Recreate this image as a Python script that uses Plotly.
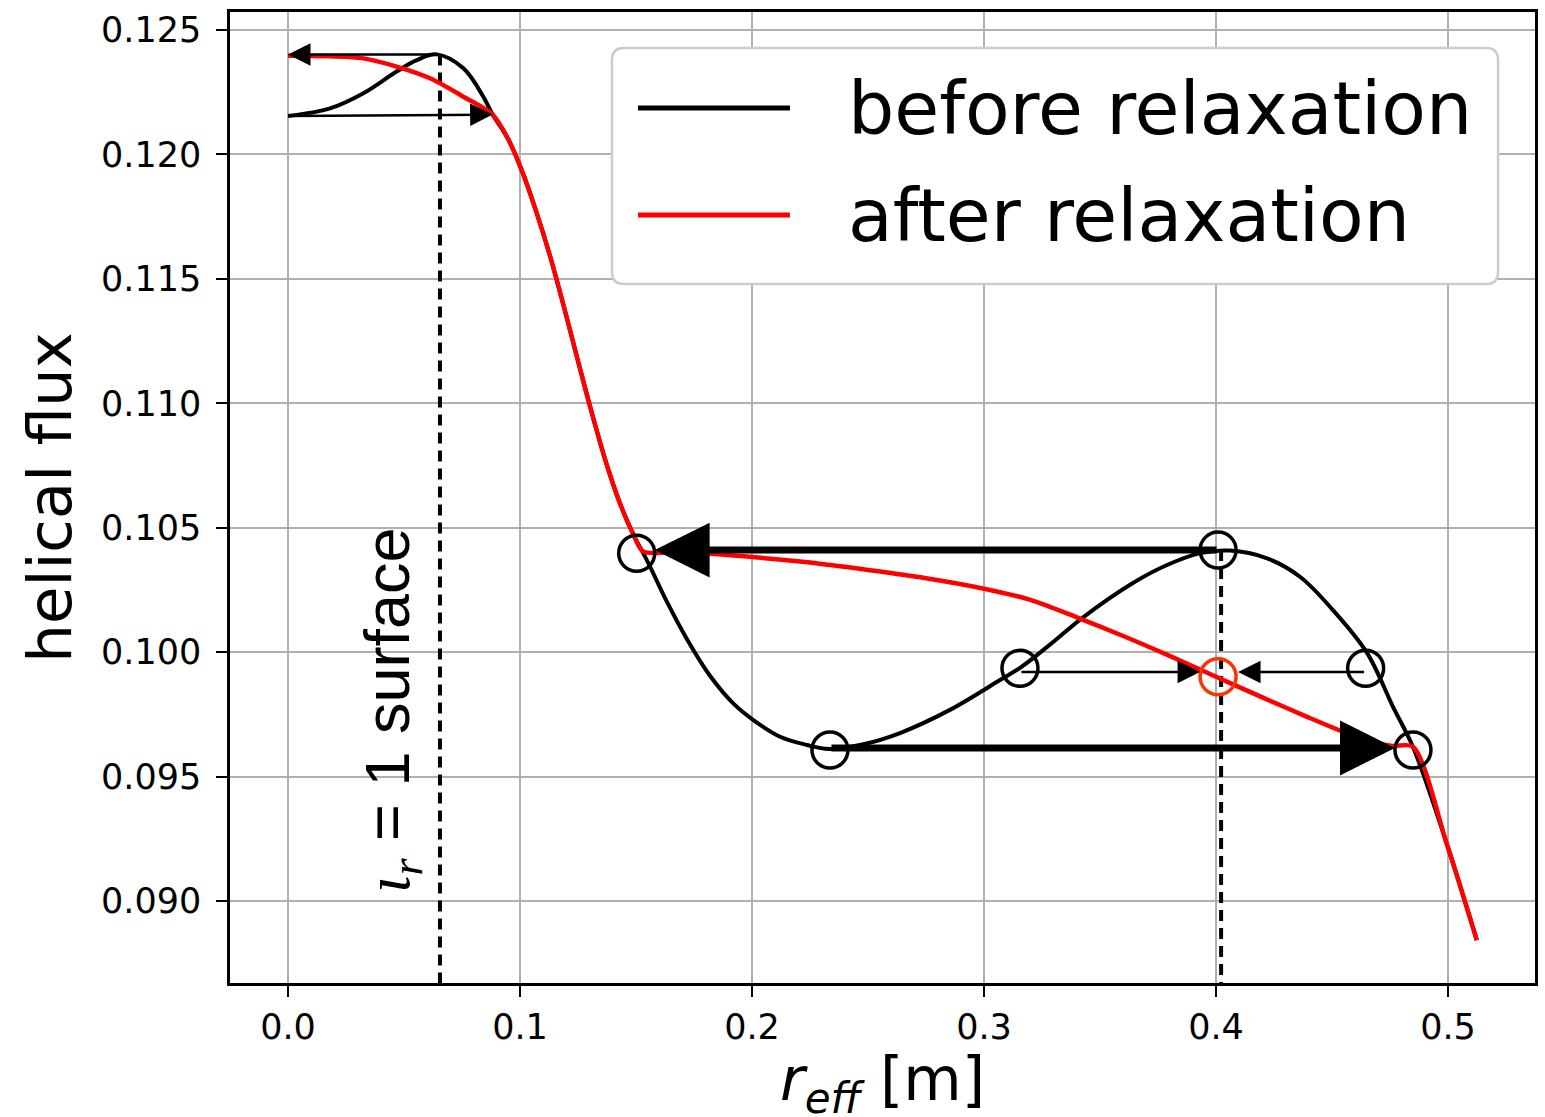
import plotly.graph_objects as go

# Helical flux profile across the effective minor radius
r_before = [0.0000, 0.0181, 0.0325, 0.0468, 0.0555, 0.0641, 0.0756, 0.0842, 0.0882,
            0.0950, 0.1010, 0.1070, 0.1130, 0.1190, 0.1250, 0.1310, 0.1370, 0.1430,
            0.1490, 0.1530, 0.1560, 0.1632, 0.1718, 0.1819, 0.1919, 0.2006, 0.2121, 0.2236,
            0.2332, 0.2480, 0.2638, 0.2853, 0.3069, 0.3160, 0.3284, 0.3427, 0.3642,
            0.3789, 0.3931, 0.4060, 0.4220, 0.4362, 0.4504, 0.4651, 0.4763, 0.4849,
            0.4994, 0.5124]
flux_before = [0.12154, 0.12185, 0.12246, 0.12333, 0.12379, 0.12402, 0.12346, 0.12232, 0.12160,
               0.12060, 0.11930, 0.11770, 0.11590, 0.11385, 0.11170, 0.10960, 0.10765, 0.10600,
               0.10470, 0.10400, 0.10345, 0.10205, 0.10055, 0.09905, 0.09794, 0.09727, 0.09660, 0.09627,
               0.09611, 0.09630, 0.09675, 0.09768, 0.09888, 0.09940, 0.10030, 0.10140, 0.10278,
               0.10350, 0.10398, 0.10408, 0.10377, 0.10303, 0.10169, 0.09997, 0.09780, 0.09619,
               0.09232, 0.08843]

r_after = [0.0000, 0.0181, 0.0325, 0.0468, 0.0612, 0.0756, 0.0882,
           0.0950, 0.1010, 0.1070, 0.1130, 0.1190, 0.1250, 0.1310, 0.1370, 0.1430,
           0.1490, 0.1530, 0.1650, 0.1800, 0.2000, 0.2250, 0.2500, 0.2750, 0.3000, 0.3200,
           0.3400, 0.3600, 0.3800, 0.4000, 0.4200, 0.4400, 0.4560, 0.4660, 0.4760,
           0.4849, 0.4994, 0.5124]
flux_after = [0.12396, 0.12394, 0.12386, 0.12353, 0.12306, 0.12232, 0.12160,
              0.12060, 0.11930, 0.11770, 0.11590, 0.11385, 0.11170, 0.10960, 0.10765, 0.10600,
              0.10470, 0.10405, 0.10400, 0.10396, 0.10382, 0.10360, 0.10330, 0.10297, 0.10255, 0.10210,
              0.10140, 0.10065, 0.09985, 0.09901, 0.09818, 0.09737, 0.09675, 0.09642, 0.09623,
              0.09620, 0.09232, 0.08843]

# Resonant surfaces (vertical guides)
guide_r = [0.0655, 0.4022]
guide_top = [0.12402, 0.10410]

# Surfaces that are paired up by the flattening
pair_r = [0.1503, 0.4009, 0.2336, 0.4849, 0.3155, 0.4645]
pair_flux = [0.10397, 0.10410, 0.09607, 0.09607, 0.09935, 0.09935]
merged_r = [0.4009]
merged_flux = [0.09901]

# Arrows from tail to head
arrow_tail_r = [0.0641, 0.0000, 0.4009, 0.2336, 0.3155, 0.4645]
arrow_tail_flux = [0.12402, 0.12154, 0.10410, 0.09615, 0.09920, 0.09920]
arrow_head_r = [0.0000, 0.0882, 0.1503, 0.4849, 0.4009, 0.4009]
arrow_head_flux = [0.12402, 0.12160, 0.10410, 0.09615, 0.09920, 0.09920]

x_ticks = [0.0, 0.1, 0.2, 0.3, 0.4, 0.5]
y_ticks = [0.090, 0.095, 0.100, 0.105, 0.110, 0.115, 0.120, 0.125]
x_range = [-0.025, 0.5375]
y_range = [0.086705, 0.125723]

# arrow drawing styles: (line width, head size, standoff)
ARROW_STYLE = [(2.5, 1.8, 0), (2.5, 1.8, 0), (7, 1.57, 18), (7, 1.57, 18), (2.5, 1.8, 18), (2.5, 1.8, 20)]

FONT = "DejaVu Sans"

fig = go.Figure()

for gx, gtop in zip(guide_r, guide_top):
    fig.add_trace(go.Scatter(
        x=[gx, gx], y=[gtop, y_range[0]], mode="lines",
        line=dict(color="black", width=4, dash="11px,7px"),
        showlegend=False, hoverinfo="skip"))

fig.add_trace(go.Scatter(
    x=r_before, y=flux_before, mode="lines", name="before relaxation",
    line=dict(color="black", width=4, shape="spline", smoothing=1.0),
    showlegend=False))
fig.add_trace(go.Scatter(
    x=r_after, y=flux_after, mode="lines", name="after relaxation",
    line=dict(color="#ff0000", width=4.5, shape="spline", smoothing=0.8),
    showlegend=False))

fig.add_trace(go.Scatter(
    x=pair_r, y=pair_flux, mode="markers",
    marker=dict(symbol="circle-open", size=36, color="black",
                line=dict(color="black", width=3.5)),
    showlegend=False, hoverinfo="skip"))
fig.add_trace(go.Scatter(
    x=merged_r, y=merged_flux, mode="markers",
    marker=dict(symbol="circle-open", size=36, color="#ff3300",
                line=dict(color="#ff3300", width=3.5)),
    showlegend=False, hoverinfo="skip"))

for tr, tf, hr, hf, (w, s, so) in zip(arrow_tail_r, arrow_tail_flux,
                                     arrow_head_r, arrow_head_flux, ARROW_STYLE):
    fig.add_annotation(
        x=hr, y=hf, ax=tr, ay=tf, xref="x", yref="y", axref="x", ayref="y",
        text="", showarrow=True, arrowhead=2, arrowwidth=w, arrowsize=s,
        arrowcolor="black", standoff=so, startstandoff=0)

# label of the resonant surface
fig.add_annotation(
    x=0.0448, y=0.09767, xref="x", yref="y", showarrow=False, textangle=-90,
    text='<span style="font-family:Liberation Serif"><i>ι</i><sub><i>r</i></sub></span> = 1 surface',
    font=dict(family="Liberation Sans", size=63, color="black"))

# x-axis title, placed below the tick labels
fig.add_annotation(
    x=0.5, y=-0.104, xref="paper", yref="paper", showarrow=False,
    xanchor="center", yanchor="middle",
    text="<i>r</i><sub><i>eff</i></sub> [m]",
    font=dict(family=FONT, size=60, color="black"))

# legend box
pw, ph = 1305.0, 971.0
bx0, bx1, by0, by1 = 0.2927, 0.9717, 0.7199, 0.9629
rx, ry = 12 / pw, 12 / ph
box = (f"M {bx0 + rx},{by0} L {bx1 - rx},{by0} Q {bx1},{by0} {bx1},{by0 + ry} "
       f"L {bx1},{by1 - ry} Q {bx1},{by1} {bx1 - rx},{by1} "
       f"L {bx0 + rx},{by1} Q {bx0},{by1} {bx0},{by1 - ry} "
       f"L {bx0},{by0 + ry} Q {bx0},{by0} {bx0 + rx},{by0} Z")
fig.add_shape(type="path", path=box, xref="paper", yref="paper", layer="above",
              fillcolor="white", line=dict(color="#cccccc", width=2.5))
legend_rows = [("before relaxation", "black", 0.9011), ("after relaxation", "#ff0000", 0.7909)]
for label, color, ly in legend_rows:
    fig.add_shape(type="line", xref="paper", yref="paper", layer="above",
                  x0=0.3126, x1=0.4291, y0=ly, y1=ly, line=dict(color=color, width=5))
    fig.add_annotation(x=0.4720, y=ly, xref="paper", yref="paper", showarrow=False,
                       xanchor="left", yanchor="middle", text=label,
                       font=dict(family=FONT, size=73, color="black"))

axis_common = dict(
    showgrid=True, gridcolor="#b0b0b0", gridwidth=2,
    showline=True, linecolor="black", linewidth=2.5, mirror=True,
    ticks="outside", ticklen=11, tickwidth=2, tickcolor="black",
    tickfont=dict(family=FONT, size=35, color="black"),
    zeroline=False, automargin=False,
)

fig.update_xaxes(
    range=x_range, tickvals=x_ticks, tickformat=".1f", ticklabelstandoff=0,
    **axis_common)
fig.update_yaxes(
    range=y_range, tickvals=y_ticks, tickformat=".3f", ticklabelstandoff=8,
    title=dict(text="helical flux", font=dict(family=FONT, size=61, color="black"), standoff=10),
    **axis_common)

fig.update_layout(
    width=1545, height=1117, autosize=False,
    margin=dict(l=230, r=10, t=12, b=134),
    paper_bgcolor="white", plot_bgcolor="white",
    showlegend=False,
)

fig.write_html("out.html")
